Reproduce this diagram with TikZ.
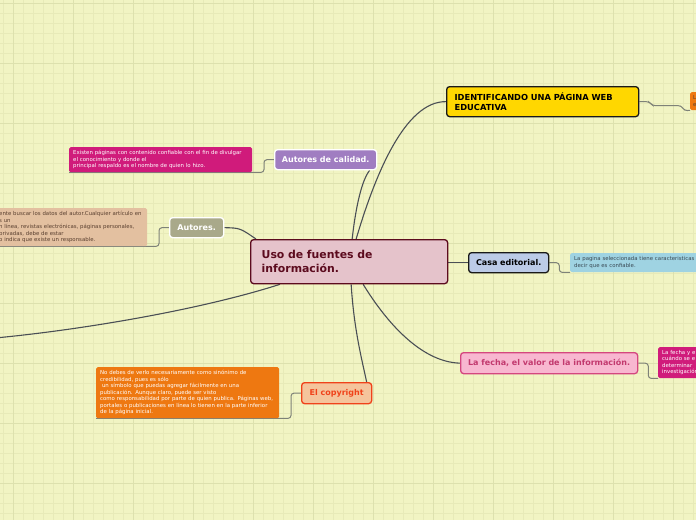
\documentclass[tikz,border=0pt]{standalone}
\usepackage{fontspec}
\setmainfont{DejaVu Sans}
\usetikzlibrary{calc}
\pgfdeclarelayer{bglayer}
\pgfdeclarelayer{edgelayer}
\pgfsetlayers{bglayer,edgelayer,main}
\definecolor{bgc}{HTML}{F1F4C3}
\definecolor{gridminor}{HTML}{E7EAB8}
\definecolor{gridmajor}{HTML}{DDE1AE}
\definecolor{mainline}{HTML}{4A4F55}
\definecolor{subline}{HTML}{7E8278}
\definecolor{cenfill}{HTML}{E5C3CB}
\definecolor{cenbord}{HTML}{5C0B1E}
\definecolor{gold}{HTML}{FFD700}
\definecolor{purp}{HTML}{A07DC1}
\definecolor{magc}{HTML}{D01B7B}
\definecolor{olive}{HTML}{A9A98A}
\definecolor{peach}{HTML}{E3C0A0}
\definecolor{peachtxt}{HTML}{5A4030}
\definecolor{copyfill}{HTML}{F5C49C}
\definecolor{copybord}{HTML}{F0421A}
\definecolor{orangec}{HTML}{EE7811}
\definecolor{casafill}{HTML}{BCCBE7}
\definecolor{ltblue}{HTML}{9FD3E2}
\definecolor{ltbluetxt}{HTML}{3A4A55}
\definecolor{fechafill}{HTML}{F8B7D0}
\definecolor{fechabord}{HTML}{D4477F}
\definecolor{fechatxt}{HTML}{C2396E}
\begin{document}
\begin{tikzpicture}[x=1pt,y=-1pt,
  mainconn/.style={draw=mainline, line width=1.1pt},
  subconn/.style={draw=subline, line width=1pt, rounded corners=3pt},
  titlebox/.style={draw, rounded corners=3pt, line width=1.3pt, inner sep=0pt, anchor=north west,
     font=\bfseries\fontsize{8}{9.5}\selectfont},
  notebox/.style={rounded corners=1.5pt, inner sep=0pt, anchor=north west, align=left,
     font=\fontsize{5.4}{6.5}\selectfont}]
\useasboundingbox (0,0) rectangle (696,520);
\clip (0,0) rectangle (696,520);
\begin{pgfonlayer}{bglayer}
\fill[bgc] (0,0) rectangle (696,520);
\foreach \x in {3.3,13.3,...,696} \draw[gridminor, line width=0.6pt] (\x,0) -- (\x,520);
\foreach \y in {3.3,13.3,...,520} \draw[gridminor, line width=0.6pt] (0,\y) -- (696,\y);
\foreach \x in {13.3,73.3,...,696} \draw[gridmajor, line width=0.8pt] (\x,0) -- (\x,520);
\foreach \y in {3.3,63.3,...,520} \draw[gridmajor, line width=0.8pt] (0,\y) -- (696,\y);
\end{pgfonlayer}

% nodes
\node[titlebox, fill=cenfill, draw=cenbord, text=cenbord, minimum width=197, minimum height=44,
  text width=175, align=left, font=\bfseries\fontsize{10.9}{14}\selectfont] (c) at (250,239)
  {Uso de fuentes de\\información.};
\node[titlebox, fill=gold, draw=black!90, minimum width=192, minimum height=30,
  text width=176, align=left, font=\bfseries\fontsize{8.3}{10}\selectfont] (ident) at (446,86)
  {IDENTIFICANDO UNA PÁGINA WEB\\EDUCATIVA};
\node[titlebox, fill=purp, draw=white, text=white, minimum width=102, minimum height=20] (autcal) at (274,149) {Autores de calidad.};
\node[titlebox, fill=olive, draw=white, text=white, minimum width=54, minimum height=20] (aut) at (169,217) {Autores.};
\node[titlebox, fill=copyfill, draw=copybord, text=copybord, minimum width=70, minimum height=21] (copy) at (301,382) {El copyright};
\node[titlebox, fill=casafill, draw=black!90, text=black, minimum width=80, minimum height=20] (casa) at (468,252) {Casa editorial.};
\node[titlebox, fill=fechafill, draw=fechabord, text=fechatxt, minimum width=177, minimum height=21] (fecha) at (460,352) {La fecha, el valor de la información.};

\node[notebox, fill=magc, text=white, minimum width=183, minimum height=25, text width=175] (mag) at (69,147)
  {Existen páginas con contenido confiable con el fin de divulgar\\el conocimiento y donde el\\principal respaldo es el nombre de quien lo hizo.};
\node[notebox, fill=peach, text=peachtxt, minimum width=153, minimum height=38, text width=143] (peach) at (-6,208)
  {ente buscar los datos del autor.Cualquier artículo en\\s un\\n línea, revistas electrónicas, páginas personales,\\privadas, debe de estar\\o indica que existe un responsable.};
\node[notebox, fill=orangec, text=white, minimum width=183, minimum height=51, text width=175] (orn) at (96,367)
  {No debes de verlo necesariamente como sinónimo de\\credibilidad, pues es sólo\\\ un símbolo que puedas agregar fácilmente en una\\publicación. Aunque claro, puede ser visto\\como responsabilidad por parte de quien publica. Páginas web,\\portales o publicaciones en línea lo tienen en la parte inferior\\de la página inicial.};
\node[notebox, fill=ltblue, text=ltbluetxt, minimum width=140, minimum height=19, text width=132] (lb) at (570,253)
  {La pagina seleccionada tiene caracteristicas\\decir que es confiable.};
\node[notebox, fill=magc, text=white, minimum width=60, minimum height=31, text width=52] (rmag) at (658,347)
  {La fecha y e\\cuándo se e\\determinar\\investigación};
\node[notebox, fill=orangec, text=peachtxt, minimum width=20, minimum height=18, text width=14] (ro) at (690,92)
  {L\\e};

\coordinate (offL) at (-5,338);

\begin{pgfonlayer}{edgelayer}
% main connectors
\draw[mainconn] ([xshift=7pt]c.north) .. controls (375,175) and (405,101) .. (ident.west);
\draw[mainconn] ([xshift=3pt]c.north) .. controls (356,205) and (362,180) .. ([xshift=44pt]autcal.south);
\draw[mainconn] (aut.east) .. controls (240,228) .. ([xshift=6pt]c.north west);
\draw[mainconn] ([xshift=30pt]c.south west) .. controls (200,310) and (80,330) .. (offL);
\draw[mainconn] (c.east |- casa.west) -- (casa.west);
\draw[mainconn] ([xshift=14pt]c.south) .. controls (385,320) and (420,362) .. (fecha.west);
\draw[mainconn] ([xshift=2pt]c.south) .. controls (354,330) and (362,360) .. ([xshift=30pt]copy.north);

% sub connectors
\draw[subconn] (autcal.west) -- ++(-10,0) |- (mag.south west);
\draw[subconn] (aut.west) -- ++(-10,0) |- (peach.south west);
\draw[subconn] (copy.west) -- ++(-10,0) |- (orn.south west);
\draw[subconn] (casa.east) -- ++(10,0) |- (lb.south west);
\draw[subconn] (fecha.east) -- ++(10,0) |- (rmag.south west);
\draw[subconn] (ident.east) -- ++(10,0) -- ++(3,4) -- ++(29,0) -- ++(3,5) -- (ro.south west);
\end{pgfonlayer}
\end{tikzpicture}
\end{document}
